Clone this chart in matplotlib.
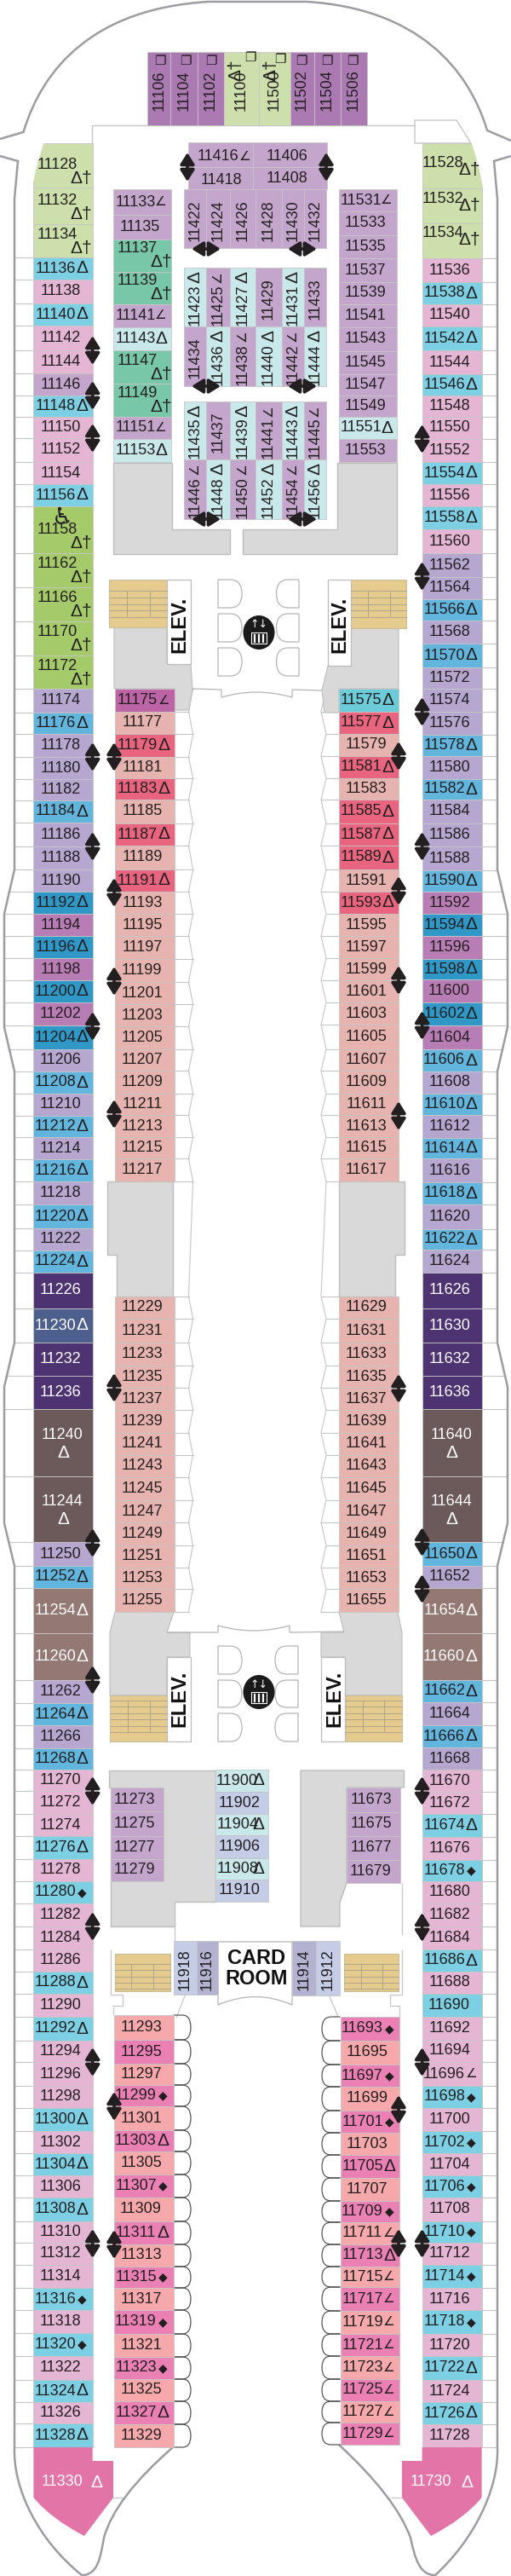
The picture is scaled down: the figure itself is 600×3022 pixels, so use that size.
import numpy as np
from matplotlib import pyplot as plt
from matplotlib.patches import Rectangle, Polygon, PathPatch, Ellipse, FancyArrowPatch
from matplotlib.path import Path

# colours per cabin class
class_colors = {'a': '#cde0ac', 'g': '#a5ca6a', 'e': '#79c7a9', 'c': '#7dd0e4', 'p': '#e4b6d4',
                'l': '#c4a6cd', 'v': '#b5a7d0', 'b': '#62b5dc', 'd': '#2f98c7', 'o': '#b97db5',
                'k': '#4e3372', 'n': '#4d5f8c', 't': '#6c5a5a', 'm': '#947874', 's': '#e6b3ae',
                'r': '#e9657f', 'x': '#bc64a5', 'y': '#6ccbd9', 'h': '#f6a8aa', 'q': '#ea80b4',
                'i': '#c9e8ea', 'u': '#ab7ab3', 'w': '#c5cce6', 'z': '#b3b2d0'}
light_text = ['k', 'n', 't', 'm']
symbols = {'D': 'Δ', 'A': '∠', 'J': '◆', 'T': 'Δ†', '-': ''}

# left outer row
lo_nums = [11128, 11132, 11134, 11136, 11138, 11140, 11142, 11144, 11146, 11148, 11150, 11152, 11154, 11156, 11158,
           11162, 11166, 11170, 11172, 11174, 11176, 11178, 11180, 11182, 11184, 11186, 11188, 11190, 11192, 11194,
           11196, 11198, 11200, 11202, 11204, 11206, 11208, 11210, 11212, 11214, 11216, 11218, 11220, 11222, 11224,
           11226, 11230, 11232, 11236, 11240, 11244, 11250, 11252, 11254, 11260, 11262, 11264, 11266, 11268, 11270,
           11272, 11274, 11276, 11278, 11280, 11282, 11284, 11286, 11288, 11290, 11292, 11294, 11296, 11298, 11300,
           11302, 11304, 11306, 11308, 11310, 11312, 11314, 11316, 11318, 11320, 11322, 11324, 11326, 11328]
lo_cls = ('a a a c p c p p l c p p p c g '
          'g g g g v b v v v b v v v d o '
          'd o d o d v b v b v b v b v b '
          'k n k k t t v b m m v b v b p '
          'p p c p c p p p c p c p p p c '
          'p c p c p p p c p c p c p c').split()
lo_sym = ('T T T D - D - - - D - - - D T '
          'T T T T - D - - - D - - - D - '
          'D - D - D - D - D - D - D - D '
          '- D - - D D - D D D - D - D - '
          '- - D - J - - - D - D - - - D '
          '- D - D - - - J - J - D - D').split()
lo_edges = [168, 220, 263, 302, 328, 356, 382, 411, 438, 464, 489, 514, 542, 568, 594, 649,
            689, 729, 769, 808, 836, 861, 888, 914, 939, 965, 993, 1020, 1046, 1072, 1098,
            1124, 1150, 1176, 1203, 1231, 1257, 1283, 1309, 1334, 1360, 1386, 1413, 1441, 1467, 1493,
            1535, 1575, 1614, 1653, 1732, 1809, 1837, 1863, 1916, 1971, 1998, 2024, 2051, 2076, 2101,
            2128, 2154, 2181, 2207, 2233, 2260, 2287, 2313, 2339, 2366, 2394, 2419, 2447, 2473, 2500,
            2526, 2552, 2578, 2606, 2631, 2657, 2684, 2710, 2737, 2764, 2792, 2818, 2843, 2871]

# right outer row
ro_nums = [11528, 11532, 11534, 11536, 11538, 11540, 11542, 11544, 11546, 11548, 11550, 11552, 11554, 11556, 11558,
           11560, 11562, 11564, 11566, 11568, 11570, 11572, 11574, 11576, 11578, 11580, 11582, 11584, 11586, 11588,
           11590, 11592, 11594, 11596, 11598, 11600, 11602, 11604, 11606, 11608, 11610, 11612, 11614, 11616, 11618,
           11620, 11622, 11624, 11626, 11630, 11632, 11636, 11640, 11644, 11650, 11652, 11654, 11660, 11662, 11664,
           11666, 11668, 11670, 11672, 11674, 11676, 11678, 11680, 11682, 11684, 11686, 11688, 11690, 11692, 11694,
           11696, 11698, 11700, 11702, 11704, 11706, 11708, 11710, 11712, 11714, 11716, 11718, 11720, 11722, 11724,
           11726, 11728]
ro_cls = ('a a a p c p c p c p p p c p c '
          'p v v b v b v v v b v b v v v '
          'b o d o d o d o b v b v b v b '
          'v b v k k k k t t b v m m b v '
          'b v p p c p c p p p c p c p p '
          'p c p c p c p c p c p c p c p '
          'c p').split()
ro_sym = ('T T T - D - D - D - - - D - D '
          '- - - D - D - - - D - D - - - '
          'D - D - D - D - D - D - D - D '
          '- D - - - - - D D D - D D D - '
          'D - - - D - J - - - D - - - - '
          'A J - J - J - J - J - J - D - '
          'D -').split()
ro_edges = [168, 221, 262, 303, 331, 357, 383, 411, 439, 464, 489, 515, 542, 568, 594, 621,
            649, 677, 703, 728, 755, 783, 808, 835, 862, 887, 914, 938, 966, 993, 1021,
            1046, 1072, 1098, 1125, 1149, 1176, 1203, 1231, 1257, 1283, 1308, 1335, 1359, 1387, 1413,
            1442, 1466, 1493, 1535, 1575, 1614, 1653, 1732, 1809, 1837, 1863, 1916, 1971, 1997, 2024,
            2050, 2076, 2102, 2128, 2155, 2182, 2207, 2233, 2260, 2287, 2313, 2339, 2366, 2393, 2419,
            2447, 2473, 2500, 2526, 2552, 2578, 2606, 2631, 2657, 2684, 2710, 2738, 2764, 2792, 2818,
            2844, 2871]

# inner rows, port side
li1_nums = [11175, 11177, 11179, 11181, 11183, 11185, 11187, 11189, 11191, 11193, 11195, 11197, 11199, 11201, 11203,
            11205, 11207, 11209, 11211, 11213, 11215, 11217]
li1_cls = 'x s r s r s r s r s s s s s s s s s s s s s'.split()
li1_sym = 'A - D - D - D - D - - - - - - - - - - - - -'.split()
li1_edges = [808, 835, 861, 888, 913, 938, 966, 992, 1020, 1046, 1072, 1098, 1125, 1152, 1178, 1204,
             1231, 1256, 1283, 1308, 1334, 1359, 1386]
li2_nums = [11229, 11231, 11233, 11235, 11237, 11239, 11241, 11243, 11245, 11247, 11249, 11251, 11253, 11255]
li2_edges = [1521, 1547, 1575, 1602, 1628, 1654, 1681, 1707, 1733, 1760, 1786, 1813, 1839, 1864, 1891]
li3_nums = [11293, 11295, 11297, 11299, 11301, 11303, 11305, 11307, 11309, 11311, 11313, 11315, 11317, 11319, 11321,
            11323, 11325, 11327, 11329]
li3_cls = 'h q h q h q h q h q h q h q h q h q h'.split()
li3_sym = '- - - J - D - J - D - J - J - J - D -'.split()
li3_edges = [2364, 2393, 2421, 2446, 2471, 2499, 2524, 2551, 2578, 2606, 2633, 2659, 2684, 2710, 2738,
             2765, 2791, 2817, 2844, 2871]

# inner rows, starboard side
ri1_nums = [11575, 11577, 11579, 11581, 11583, 11585, 11587, 11589, 11591, 11593, 11595, 11597, 11599, 11601, 11603,
            11605, 11607, 11609, 11611, 11613, 11615, 11617]
ri1_cls = 'y r s r s r r r s r s s s s s s s s s s s s'.split()
ri1_sym = 'D D - D - D D D - D - - - - - - - - - - - -'.split()
ri1_edges = [808, 835, 861, 887, 913, 938, 966, 992, 1020, 1046, 1072, 1098, 1124, 1150, 1176, 1202,
             1231, 1256, 1283, 1308, 1334, 1359, 1386]
ri2_nums = [11629, 11631, 11633, 11635, 11637, 11639, 11641, 11643, 11645, 11647, 11649, 11651, 11653, 11655]
ri3_nums = [11693, 11695, 11697, 11699, 11701, 11703, 11705, 11707, 11709, 11711, 11713, 11715, 11717, 11719, 11721,
            11723, 11725, 11727, 11729]
ri3_cls = 'q h q h q h q h q h q h q h q h q h q'.split()
ri3_sym = 'J - J - J - D - J A D A A A A A A A A'.split()
ri3_edges = [2366, 2394, 2422, 2448, 2476, 2502, 2528, 2555, 2582, 2607, 2633, 2659, 2683, 2711, 2738,
             2764, 2791, 2817, 2842, 2868]

# forward rows either side of the centre block
fl_nums = [11133, 11135, 11137, 11139, 11141, 11143, 11147, 11149, 11151, 11153]
fl_cls = 'l l e e l i e e l i'.split()
fl_sym = 'A - T T A D T T A D'.split()
fl_edges = [222, 252, 281, 319, 357, 384, 411, 450, 489, 515, 542]
fr_nums = [11531, 11533, 11535, 11537, 11539, 11541, 11543, 11545, 11547, 11549, 11551, 11553]
fr_cls = 'l l l l l l l l l l i l'.split()
fr_sym = 'A - - - - - - - - - D -'.split()
fr_edges = [222, 248, 276, 303, 331, 357, 384, 412, 439, 464, 489, 515, 542]

# aft blocks near the card room
mid_nums = [11900, 11902, 11904, 11906, 11908, 11910]
mid_cls = 'i w i w i w'.split()
mid_sym = 'D - D - D -'.split()
mid_edges = [2076, 2102, 2128, 2153, 2180, 2205, 2231]
al_nums = [11273, 11275, 11277, 11279]
al_edges = [2097, 2125, 2154, 2181, 2207]
ar_nums = [11673, 11675, 11677, 11679]
ar_edges = [2097, 2126, 2154, 2182, 2209]

# vertical cabins of the centre block
top_nums = [11106, 11104, 11102, 11100, 11500, 11502, 11504, 11506]
top_cls = 'u u u a a u u u'.split()
top_edges = [173.4, 200, 231.5, 262.5, 304, 340.6, 368.5, 399.5, 431]
centre_edges = [216, 242, 270, 300, 331, 357, 383]
c1_nums = [11422, 11424, 11426, 11428, 11430, 11432]
c1_cls = 'l l l l l l'.split()
c1_sym = '- - - - - -'.split()
c2_nums = [11423, 11425, 11427, 11429, 11431, 11433]
c2_cls = 'i l i l i l'.split()
c2_sym = 'D A D - D -'.split()
c3_nums = [11434, 11436, 11438, 11440, 11442, 11444]
c3_cls = 'l i l i l i'.split()
c3_sym = '- D A D A D'.split()
c4_nums = [11435, 11437, 11439, 11441, 11443, 11445]
c4_cls = 'i l i l i l'.split()
c4_sym = 'D - D A D A'.split()
c5_nums = [11446, 11448, 11450, 11452, 11454, 11456]
c5_cls = 'l i l i l i'.split()
c5_sym = 'A D A D A D'.split()
card_nums = [11918, 11916, 11914, 11912]
card_cls = 'w z z w'.split()

# connecting door arrows: x, y
arrows_v = [(108.7, 411), (108.7, 464), (108.7, 514), (108.7, 888), (108.7, 993), (108.7, 1204), (108.7, 1810),
            (108.7, 1971), (108.7, 2101), (108.7, 2260), (108.7, 2419), (108.7, 2632),
            (134, 888), (134, 1047), (134, 1151), (134, 1307), (134, 1628), (134, 2471), (134, 2633),
            (495.6, 515), (495.6, 676), (495.6, 835), (495.6, 993), (495.6, 1203), (495.6, 1809), (495.6, 1864),
            (495.6, 2101), (495.6, 2261), (495.6, 2419), (495.6, 2632),
            (468, 887), (468, 1045), (468, 1150), (468, 1309), (468, 1629), (468, 2475), (468, 2632),
            (220, 196), (383, 196)]
arrows_h = [(242, 292), (355, 292), (242, 453), (355, 453), (242, 609), (355, 609)]

FONT = ['Liberation Sans Narrow', 'Liberation Sans', 'DejaVu Sans']
SYM_FONT = ['Liberation Sans', 'DejaVu Sans']
GREY = '#d9d9d9'
TAN = '#e5cb8e'
HULL = '#9c9ca2'
THIN = '#c6c6c6'
INK = '#231f20'

fig = plt.figure(figsize=(6.0, 30.22), dpi=100)
ax = fig.add_axes([0, 0, 1, 1])
ax.set_xlim(0, 600)
ax.set_ylim(3022, 0)
ax.axis('off')


def label(x, y, s, color=INK, size=13, rot=0, z=6, family=None, weight='normal'):
    ax.text(x, y, s, color=color, fontsize=size, rotation=rot, ha='center', va='center', zorder=z,
            family=family or FONT, fontweight=weight, rotation_mode='anchor')


def sym_label(x, y, code, color=INK, rot=0):
    s = symbols[code]
    size = {'D': 15, 'T': 15, 'A': 11, 'J': 10}[code]
    label(x, y, s, color, size, rot, family=SYM_FONT)


def column(x0, x1, edges, nums, cls, syms):
    for i in range(len(nums)):
        y0, y1 = edges[i], edges[i + 1]
        ax.add_patch(Rectangle((x0, y0), x1 - x0, y1 - y0, fc=class_colors[cls[i]], ec=THIN, lw=0.6, zorder=4))
        col = '#ffffff' if cls[i] in light_text else INK
        s = syms[i]
        if s == '-':
            label((x0 + x1) / 2 - 3, (y0 + y1) / 2, str(nums[i]), col)
        elif s == 'T':
            if x0 > 480:
                label(x0 + 24, y1 - 29, str(nums[i]), col)
                sym_label(x0 + 56, y1 - 21, s, col)
            else:
                label(x0 + 28, y1 - 27, str(nums[i]), col)
                sym_label(x0 + 56, y1 - 11, s, col)
        elif cls[i] == 't':
            label((x0 + x1) / 2 - 1, y0 + 30, str(nums[i]), col)
            sym_label((x0 + x1) / 2, y0 + 51, s, col)
        else:
            label(x0 + 26, (y0 + y1) / 2, str(nums[i]), col)
            sym_label(x1 - 12, (y0 + y1) / 2, s, col)


def vcolumn(y0, y1, edges, nums, cls, syms):
    for i in range(len(nums)):
        x0, x1 = edges[i], edges[i + 1]
        ax.add_patch(Rectangle((x0, y0), x1 - x0, y1 - y0, fc=class_colors[cls[i]], ec=THIN, lw=0.6, zorder=4))
        xc = (x0 + x1) / 2
        if syms[i] == '-':
            label(xc, (y0 + y1) / 2 + 2, str(nums[i]), rot=90)
        else:
            label(xc, y1 - 25, str(nums[i]), rot=90)
            sym_label(xc, y0 + 11, syms[i], rot=90)


def poly(points, fc='none', ec=THIN, lw=0.9, z=2, closed=True):
    ax.add_patch(Polygon(points, closed=closed, fc=fc, ec=ec, lw=lw, zorder=z))


def curve(verts, codes, fc='none', ec=HULL, lw=1.8, z=3):
    ax.add_patch(PathPatch(Path(verts, codes), fc=fc, ec=ec, lw=lw, zorder=z))


def stairs(x0, y0, x1, y1, ly0, ly1, n, vx):
    ax.add_patch(Rectangle((x0, y0), x1 - x0, y1 - y0, fc=TAN, ec='#c8bd9c', lw=0.8, zorder=3))
    for y in np.linspace(ly0, ly1, n):
        ax.plot([x0, x1], [y, y], color='#a89f8a', lw=0.6, zorder=3.5)
    for x in vx:
        ax.plot([x, x], [ly0, ly1], color='#a89f8a', lw=0.6, zorder=3.5)


def doors(x0, x1, rows, side):
    # lift doors, flat on one side and round on the other
    for y0, y1 in rows:
        if side == 'L':
            v = [(x0, y0), (x1 - 14, y0), (x1, y0), (x1, (y0 + y1) / 2), (x1, y1), (x1 - 14, y1), (x0, y1), (x0, y0)]
        else:
            v = [(x1, y0), (x0 + 14, y0), (x0, y0), (x0, (y0 + y1) / 2), (x0, y1), (x0 + 14, y1), (x1, y1), (x1, y0)]
        c = [Path.MOVETO, Path.LINETO, Path.CURVE3, Path.CURVE3, Path.CURVE3, Path.CURVE3, Path.LINETO, Path.LINETO]
        curve(v, c, ec='#b4b4b4', lw=0.9)


def lift_icon(xc, yc):
    ax.add_patch(Ellipse((xc, yc), 37, 40, fc='#1a1a1a', ec='none', zorder=4))
    label(xc, yc - 9, '↑↓', '#ffffff', 9, family=['DejaVu Sans'])
    ax.add_patch(Rectangle((xc - 9, yc), 18, 13, fc='none', ec='#ffffff', lw=0.8, zorder=5))
    for dx in (-5, 0, 5):
        ax.plot([xc + dx, xc + dx], [yc + 3, yc + 11], color='#ffffff', lw=1.6, zorder=5)


# hull outline
top_v = [(0, 163), (27.5, 155), (50, 80), (110, 10), (245, 2), (360, 2), (490, 10), (550, 80), (572, 153), (600, 165)]
top_c = [Path.MOVETO, Path.LINETO, Path.CURVE4, Path.CURVE4, Path.CURVE4, Path.LINETO, Path.CURVE4, Path.CURVE4,
         Path.CURVE4, Path.LINETO]
curve(top_v, top_c)
hull_y = [233, 1020, 1072, 1205, 1257, 1575, 1627, 1787, 1837, 2871]
hull_lx = [17, 17, 5, 5, 17, 17, 5, 5, 17, 17]
hull_rx = [584, 584, 596, 596, 584, 584, 596, 596, 584, 584]
left_v = [(0, 183), (21, 189)] + list(zip(hull_lx, hull_y)) + [(15, 2920), (45, 2980), (96, 3021), (115, 3021), (118, 3000), (122, 2977),
                                                               (135, 2930), (203, 2871)]
left_c = [Path.MOVETO] + [Path.LINETO] * (len(hull_y) + 1) + [Path.CURVE4] * 3 + [Path.CURVE4] * 3 + [Path.CURVE3] * 2
curve(left_v, left_c)
right_v = [(600, 183), (580, 189)] + list(zip(hull_rx, hull_y)) + [(586, 2920), (556, 2980), (511, 3021), (492, 3021), (487, 3000), (482, 2977),
                                                                  (465, 2930), (398, 2868)]
curve(right_v, left_c)

# cabin dividers running out to the hull
for y in lo_edges[3:]:
    ax.plot([np.interp(y, hull_y, hull_lx), 39.4], [y, y], color=THIN, lw=0.8, zorder=2)
for y in ro_edges[3:]:
    ax.plot([565.6, np.interp(y, hull_y, hull_rx)], [y, y], color=THIN, lw=0.8, zorder=2)
poly([(132, 2930), (145, 2930)], closed=False)
poly([(459, 2930), (472, 2930)], closed=False)

# inner balcony dividers with the wavy atrium edge
inner_l = li1_edges + li2_edges
inner_r = ri1_edges + li2_edges
wave_lx = [224 + 2.5 * (-1) ** i for i in range(len(inner_l))]
wave_rx = [380 + 3 * (-1) ** i for i in range(len(inner_r))]
for y, x in zip(inner_l, wave_lx):
    ax.plot([204, x], [y, y], color=THIN, lw=0.8, zorder=2)
for y, x in zip(inner_r, wave_rx):
    ax.plot([398, x], [y, y], color=THIN, lw=0.8, zorder=2)
ax.plot(wave_lx, inner_l, color=THIN, lw=0.8, zorder=2)
ax.plot(wave_rx, inner_r, color=THIN, lw=0.8, zorder=2)

# forward open frame
poly([(108, 168), (108, 147), (487, 147)], closed=False, lw=1)
poly([(487, 147), (487, 141), (536, 141), (553, 168), (487, 168)], lw=1)

# grey service areas
poly([(133, 543), (201.7, 543), (201.7, 621), (270, 621), (270, 650), (133, 650)], fc=GREY, ec='#bdbdbd', lw=1)
poly([(396, 543), (466, 543), (466, 650), (285, 650), (285, 621), (396, 621)], fc=GREY, ec='#bdbdbd', lw=1)
poly([(134, 736), (196, 736), (196, 779), (224, 779), (226, 808), (222, 833), (205, 833), (205, 808), (134, 808)],
     fc=GREY, ec='#bdbdbd', lw=0.8)
poly([(468, 737), (412, 737), (412, 781), (385, 781), (378, 810), (381, 836), (398, 836), (398, 808), (468, 808)],
     fc=GREY, ec='#bdbdbd', lw=0.8)
poly([(126, 1386), (203, 1386), (203, 1521), (137, 1521), (137, 1472), (126, 1472)], fc=GREY, ec='#bdbdbd', lw=1)
poly([(398, 1386), (474.5, 1386), (474.5, 1472), (464, 1472), (464, 1521), (398, 1521)], fc=GREY, ec='#bdbdbd', lw=1)
poly([(135, 1891), (204, 1891), (196, 1915), (223, 1915), (223, 1944), (196, 1944), (196, 1989), (129, 1989), (129, 1915)],
     fc=GREY, ec='#bdbdbd', lw=0.8)
poly([(398, 1891), (467, 1891), (472, 1915), (472, 1989), (405, 1989), (405, 1944), (377, 1944), (377, 1915), (404, 1915)],
     fc=GREY, ec='#bdbdbd', lw=0.8)
poly([(128, 2077), (252.6, 2077), (252.6, 2231), (205, 2231), (205, 2260), (130, 2260), (130, 2097), (128, 2097)],
     fc=GREY, ec='#bdbdbd', lw=1)
poly([(353, 2077), (474.5, 2077), (474.5, 2097), (407, 2097), (407, 2209), (399, 2232), (399, 2260), (353, 2260)],
     fc=GREY, ec='#bdbdbd', lw=1)

# lobby front lines
curve([(226, 808), (260, 809), (260, 818), (301, 806), (343, 818), (343, 809), (378, 810)],
      [Path.MOVETO, Path.LINETO, Path.LINETO, Path.CURVE3, Path.CURVE3, Path.LINETO, Path.LINETO], ec='#b4b4b4', lw=0.9)
curve([(196, 1915), (256, 1915), (256, 1907), (298, 1919), (340, 1907), (340, 1915), (404, 1914)],
      [Path.MOVETO, Path.LINETO, Path.LINETO, Path.CURVE3, Path.CURVE3, Path.LINETO, Path.LINETO], ec='#b4b4b4', lw=0.9)

# lifts and stairs
stairs(128, 680, 196, 736, 693, 724, 5, [148.5, 176])
stairs(412, 680, 477, 737, 693, 724, 5, [432, 458])
stairs(129, 1989, 196, 2043, 1995, 2032, 6, [150, 176])
stairs(405, 1989, 471.5, 2043, 1995, 2032, 6, [426, 451])
stairs(135, 2292, 200, 2336, 2304, 2333, 5, [154, 180])
stairs(404, 2292, 468, 2336, 2304, 2333, 5, [424, 448.5])
for x0, y0, x1, y1 in [(196, 680, 224, 779), (385, 680, 412, 781), (196, 1944, 224, 2043), (377, 1944, 405, 2043)]:
    ax.add_patch(Rectangle((x0, y0), x1 - x0, y1 - y0, fc='#ffffff', ec='#bdbdbd', lw=0.9, zorder=3))
for x, y in [(211, 733), (399, 733), (211, 1993), (393, 1993)]:
    label(x, y, 'ELEV.', '#111111', 17, 90, weight='bold')
doors(256, 284, [(680, 713), (720, 753), (760, 793)], 'L')
doors(324.5, 351, [(680, 713), (720, 753), (760, 793)], 'R')
doors(256, 284, [(1931, 1964), (1971, 2003), (2010, 2043)], 'L')
doors(323, 350, [(1931, 1964), (1971, 2003), (2010, 2043)], 'R')
lift_icon(304, 742)
lift_icon(304, 1985)

# card room
curve([(256, 2278), (343, 2278), (343, 2352), (300, 2333), (256, 2352), (256, 2278)],
      [Path.MOVETO, Path.LINETO, Path.LINETO, Path.CURVE3, Path.CURVE3, Path.LINETO], ec='#b4b4b4', lw=0.9)
label(301, 2298, 'CARD', '#111111', 17, weight='bold')
label(301, 2322, 'ROOM', '#111111', 17, weight='bold')
poly([(205, 2231), (205, 2277)], closed=False)
poly([(472, 2209), (472, 2270)], closed=False)
poly([(130, 2287), (130, 2340), (143.5, 2340), (143.5, 2353), (133, 2353), (133, 2364)], closed=False)
poly([(472, 2287), (472, 2340), (458, 2340), (458, 2353), (469, 2353), (469, 2366)], closed=False)
poly([(218, 2339), (207, 2367)], closed=False)
poly([(386.5, 2341), (397, 2366)], closed=False)

# rounded balconies aft
for i in range(len(li3_nums)):
    y0, y1 = li3_edges[i], li3_edges[i + 1]
    curve([(203.6, y0), (214, y0), (224, y0), (224, (y0 + y1) / 2), (224, y1), (214, y1), (203.6, y1)],
          [Path.MOVETO, Path.LINETO, Path.CURVE3, Path.CURVE3, Path.CURVE3, Path.CURVE3, Path.LINETO], ec='#444444', lw=0.8)
for i in range(len(ri3_nums)):
    y0, y1 = ri3_edges[i], ri3_edges[i + 1]
    curve([(399.5, y0), (389, y0), (378, y0), (378, (y0 + y1) / 2), (378, y1), (389, y1), (399.5, y1)],
          [Path.MOVETO, Path.LINETO, Path.CURVE3, Path.CURVE3, Path.CURVE3, Path.CURVE3, Path.LINETO], ec='#444444', lw=0.8)

# cabins
column(39.4, 108.7, lo_edges, lo_nums, lo_cls, lo_sym)
column(495.6, 565.6, ro_edges, ro_nums, ro_cls, ro_sym)
column(135, 204.7, li1_edges, li1_nums, li1_cls, li1_sym)
column(135, 204.7, li2_edges, li2_nums, ['s'] * 14, ['-'] * 14)
column(133.5, 203.6, li3_edges, li3_nums, li3_cls, li3_sym)
column(398, 467.7, ri1_edges, ri1_nums, ri1_cls, ri1_sym)
column(398, 467.7, li2_edges, ri2_nums, ['s'] * 14, ['-'] * 14)
column(399.5, 469, ri3_edges, ri3_nums, ri3_cls, ri3_sym)
column(133, 201, fl_edges, fl_nums, fl_cls, fl_sym)
column(398, 466, fr_edges, fr_nums, fr_cls, fr_sym)
column(252.6, 315, mid_edges, mid_nums, mid_cls, mid_sym)
column(130, 192, al_edges, al_nums, ['l'] * 4, ['-'] * 4)
column(407, 470, ar_edges, ar_nums, ['l'] * 4, ['-'] * 4)

# rounded bow corners over the first cabins
curve([(38, 166), (52, 166), (42, 195), (38, 220), (38, 166)],
      [Path.MOVETO, Path.LINETO, Path.CURVE3, Path.CURVE3, Path.LINETO], fc='#ffffff', ec='none', lw=0, z=5)
curve([(567, 166), (553, 166), (563, 195), (567, 221), (567, 166)],
      [Path.MOVETO, Path.LINETO, Path.CURVE3, Path.CURVE3, Path.LINETO], fc='#ffffff', ec='none', lw=0, z=5)

# forward cabins across the bow
vcolumn(61, 147, top_edges, top_nums, top_cls, ['-'] * 8)
for x, y in [(188, 71), (218, 71), (248, 71), (354, 71), (384, 71), (414, 71), (294, 68), (329, 69)]:
    label(x, y, '❐', INK, 11, family=['DejaVu Sans'])
sym_label(277, 82, 'T', rot=90)
sym_label(318, 82, 'T', rot=90)

# centre block
for x0, x1, y0, y1 in [(221, 297, 167, 196), (221, 297, 196, 222), (297, 383.5, 167, 196), (297, 383.5, 196, 222)]:
    ax.add_patch(Rectangle((x0, y0), x1 - x0, y1 - y0, fc=class_colors['l'], ec=THIN, lw=0.6, zorder=4))
label(256, 184, '11416')
sym_label(288, 184, 'A')
label(260, 211, '11418')
label(337, 183, '11406')
label(337, 209, '11408')
vcolumn(222, 291, centre_edges, c1_nums, c1_cls, c1_sym)
vcolumn(314, 383, centre_edges, c2_nums, c2_cls, c2_sym)
vcolumn(383, 453, centre_edges, c3_nums, c3_cls, c3_sym)
vcolumn(471, 539, centre_edges, c4_nums, c4_cls, c4_sym)
vcolumn(539, 609, centre_edges, c5_nums, c5_cls, c5_sym)
vcolumn(2277, 2340, [204, 231, 256], card_nums[:2], card_cls[:2], ['-'] * 2)
vcolumn(2277, 2341, [343, 371, 399], card_nums[2:], card_cls[2:], ['-'] * 2)

# wheelchair cabin
label(73, 607, '♿', INK, 20, family=['DejaVu Sans'])

# suites at the stern
curve([(39.4, 2871), (108.7, 2871), (108.7, 2887), (133, 2887), (133, 2930), (99, 2975), (60, 2955), (39.4, 2930), (39.4, 2871)],
      [Path.MOVETO, Path.LINETO, Path.LINETO, Path.LINETO, Path.LINETO, Path.LINETO, Path.CURVE3, Path.CURVE3, Path.LINETO],
      fc='#e374a7', ec='none', lw=0, z=4)
curve([(495.6, 2871), (565.6, 2871), (565.6, 2930), (545, 2955), (506, 2975), (472, 2930), (472, 2887), (495.6, 2887), (495.6, 2871)],
      [Path.MOVETO, Path.LINETO, Path.LINETO, Path.CURVE3, Path.CURVE3, Path.LINETO, Path.LINETO, Path.LINETO, Path.LINETO],
      fc='#e374a7', ec='none', lw=0, z=4)
label(73.5, 2912, '11330', '#ffffff')
sym_label(113, 2912, 'D', '#ffffff')
label(506, 2912, '11730', '#ffffff')
sym_label(548, 2912, 'D', '#ffffff')

# connecting door arrows
style = '<|-|>,head_length=8,head_width=5'
for x, y in arrows_v:
    ax.add_patch(FancyArrowPatch((x, y - 17), (x, y + 17), arrowstyle=style, mutation_scale=1, lw=2.6, color=INK,
                                 shrinkA=0, shrinkB=0, zorder=7))
for x, y in arrows_h:
    ax.add_patch(FancyArrowPatch((x - 17, y), (x + 17, y), arrowstyle=style, mutation_scale=1, lw=2.6, color=INK,
                                 shrinkA=0, shrinkB=0, zorder=7))

plt.savefig('out.png', dpi=100)
